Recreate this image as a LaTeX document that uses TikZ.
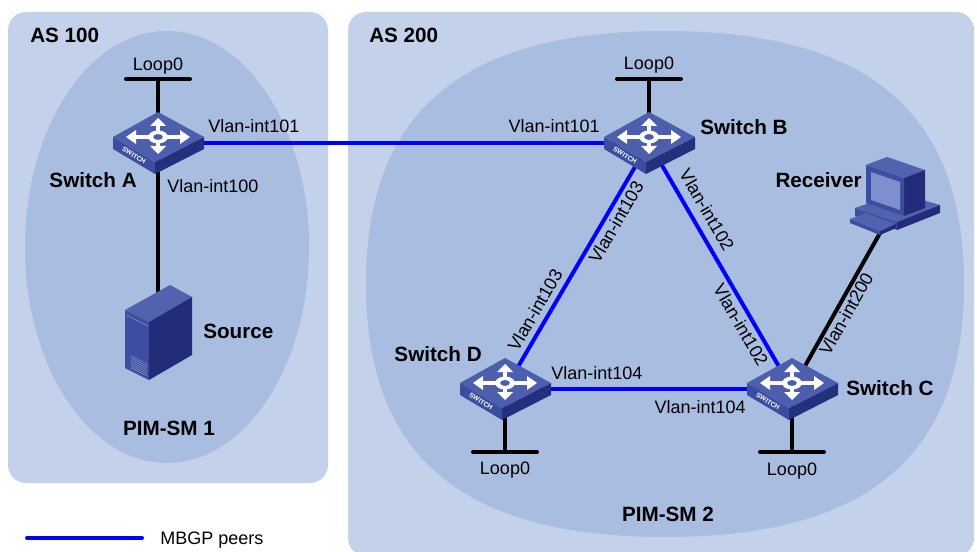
\documentclass[tikz,border=0pt]{standalone}
\usepackage{fontspec}
\setmainfont{Liberation Sans}
\usetikzlibrary{calc}

\definecolor{asbg}{HTML}{C3D1EA}
\definecolor{pimbg}{HTML}{A8BDE0}
\definecolor{mbgp}{HTML}{0000FF}
\definecolor{swtop}{HTML}{4D5EAC}
\definecolor{swleft}{HTML}{3C4C9E}
\definecolor{swright}{HTML}{242F7E}
\definecolor{devtop}{HTML}{5262AE}
\definecolor{devfront}{HTML}{3D4D9F}
\definecolor{devside}{HTML}{222C7A}
\definecolor{scrn}{HTML}{7F8ECF}

\tikzset{
  lbl/.style={font=\fontsize{13.5}{16}\selectfont, inner sep=0pt},
  devname/.style={font=\fontsize{15.5}{18}\selectfont\bfseries, inner sep=0pt},
  peer/.style={draw=mbgp, line width=3pt},
  wire/.style={draw=black, line width=3pt},
  loopbar/.style={draw=black, line width=3pt, line cap=round},
  switchicon/.pic={
    \fill[swleft] (-45,-6) -- (-3,19) -- (-3,31) -- (-45,6) -- cycle;
    \fill[swright] (-3,19) -- (46,-6) -- (46,6) -- (-3,31) -- cycle;
    \fill[swtop] (-45,-6) -- (0,-31) -- (46,-6) -- (-3,19) -- cycle;
    \begin{scope}[shift={(0,-6)}]
      \fill[white, even odd rule] (0,0) ellipse [x radius=10, y radius=6.5]
                                  (0,0) ellipse [x radius=5, y radius=3];
      \draw[white, line width=3pt] (-9,0) -- (-23,0) (9,0) -- (23,0)
                                   (0,-5) -- (0,-12) (0,5) -- (0,10);
      \fill[white] (-32,0) -- (-22,-7) -- (-22,7) -- cycle;
      \fill[white] (32,0) -- (22,-7) -- (22,7) -- cycle;
      \fill[white] (0,-19) -- (-8,-11) -- (8,-11) -- cycle;
      \fill[white] (0,17) -- (-8,9) -- (8,9) -- cycle;
    \end{scope}
    \node[white, inner sep=0pt, rotate=-31,
          font=\fontsize{5}{5}\selectfont\bfseries] at (-24,12.5) {SWITCH};
  },
}

\begin{document}
\begin{tikzpicture}[x=0.75pt, y=-0.75pt]
\useasboundingbox (0,0) rectangle (977,552);

% autonomous systems and PIM-SM domains
\begin{scope}
  \clip (0,0) rectangle (977,552);
  \fill[asbg, rounded corners=13.5pt] (8,12) rectangle (328,483);
  \fill[asbg, rounded corners=13.5pt] (348,12) rectangle (974,556);
  \fill[pimbg] (167,247) ellipse [x radius=142, y radius=216];
  \fill[pimbg] (964,284) .. controls (964,456) and (868,537) .. (665,537)
                         .. controls (462,537) and (366,456) .. (366,284)
                         .. controls (366,112) and (462,31) .. (665,31)
                         .. controls (868,31) and (964,112) .. (964,284) -- cycle;
\end{scope}

\node[devname, anchor=base west] (as100) at (30,43) {AS 100};
\node[devname, anchor=base west] (as200) at (369,43) {AS 200};
\node[devname] (pim1) at (169,428) {PIM-SM 1};
\node[devname] (pim2) at (668,514) {PIM-SM 2};

% device positions
\coordinate (A) at (158,143);
\coordinate (B) at (649,143);
\coordinate (D) at (505,389);
\coordinate (C) at (792,389);
\coordinate (src) at (158,300);
\coordinate (rcv) at (880,233);
\coordinate (loA) at (158,79);
\coordinate (loB) at (649,79);
\coordinate (loD) at (505,452);
\coordinate (loC) at (792,452);

% loopback interfaces
\foreach \lo in {loA,loB,loD,loC}
  \draw[loopbar] ($(\lo)+(-32,0)$) -- ($(\lo)+(32,0)$);
\draw[wire] (loA) -- (A);
\draw[wire] (loB) -- (B);
\draw[wire] (loD) -- (D);
\draw[wire] (loC) -- (C);

% host links
\draw[wire] (A) -- (src);
\draw[wire] (rcv) -- (C);

% MBGP peerings
\draw[peer] (A) -- (B);
\draw[peer] (B) -- (D);
\draw[peer] (B) -- (C);
\draw[peer] (D) -- (C);

% switches
\pic at (A) {switchicon};
\pic at (B) {switchicon};
\pic at (D) {switchicon};
\pic at (C) {switchicon};

% source server
\fill[devtop] (125,310) -- (170,285) -- (192,297) -- (149,322) -- cycle;
\fill[devfront] (125,310) -- (149,322) -- (149,380) -- (125,368) -- cycle;
\fill[devside] (149,322) -- (192,297) -- (192,355) -- (149,380) -- cycle;
\draw[devtop!80!white, line width=0.6pt] (126,315) -- (148,326);
\foreach \v in {0,2,...,12}
  \draw[devtop!70!white, line width=0.4pt] (131,356+\v) -- (147,364+\v);

% receiver host
\fill[devtop] (855,208) -- (898,193) -- (940,205) -- (897,222) -- cycle;
\fill[devfront] (855,208) -- (897,222) -- (897,230) -- (855,216) -- cycle;
\fill[devside] (897,222) -- (940,205) -- (940,213) -- (897,230) -- cycle;
\fill[devtop] (850,219) -- (866,213) -- (896,224) -- (880,231) -- cycle;
\fill[devfront] (850,219) -- (880,231) -- (880,235) -- (850,223) -- cycle;
\fill[devside] (880,231) -- (896,224) -- (896,228) -- (880,235) -- cycle;
\fill[devtop] (866,165) -- (887,157) -- (925,170) -- (904,178) -- cycle;
\fill[devside] (904,178) -- (925,170) -- (925,208) -- (904,216) -- cycle;
\fill[devfront] (866,165) -- (904,178) -- (904,216) -- (866,203) -- cycle;
\fill[scrn] (871,172) -- (900,182) -- (900,210) -- (871,200) -- cycle;

% device names
\node[devname, anchor=base east] (nA) at (137,188) {Switch A};
\node[devname, anchor=base west] (nB) at (700,135) {Switch B};
\node[devname, anchor=base west] (nC) at (846,395) {Switch C};
\node[devname, anchor=base east] (nD) at (482,361) {Switch D};
\node[devname, anchor=base west] (nsrc) at (203,338) {Source};
\node[devname, anchor=base east] (nrcv) at (862,188) {Receiver};

% loopback labels
\node[lbl, anchor=base] (lA) at (158,71) {Loop0};
\node[lbl, anchor=base] (lB) at (649,70) {Loop0};
\node[lbl, anchor=base] (lD) at (505,474) {Loop0};
\node[lbl, anchor=base] (lC) at (792,475) {Loop0};

% interface labels
\node[lbl, anchor=base west] (iA1) at (208,133) {Vlan-int101};
\node[lbl, anchor=base east] (iB1) at (600,133) {Vlan-int101};
\node[lbl, anchor=base west] (iA0) at (167,193) {Vlan-int100};
\node[lbl, anchor=base west] (iD4) at (551,379) {Vlan-int104};
\node[lbl, anchor=base east] (iC4) at (746,413) {Vlan-int104};
\node[lbl, rotate=60] (iB3) at (616,222) {Vlan-int103};
\node[lbl, rotate=60] (iD3) at (535,310) {Vlan-int103};
\node[lbl, rotate=-60] (iB2) at (707,210) {Vlan-int102};
\node[lbl, rotate=-60] (iC2) at (741,325) {Vlan-int102};
\node[lbl, rotate=60.6] (iC0) at (846,314) {Vlan-int200};

% legend
\coordinate (legL) at (27,538);
\coordinate (legR) at (142,538);
\draw[peer, line cap=round] (legL) -- (legR);
\node[lbl, anchor=base west] (legT) at (160,544) {MBGP peers};
\end{tikzpicture}
\end{document}
